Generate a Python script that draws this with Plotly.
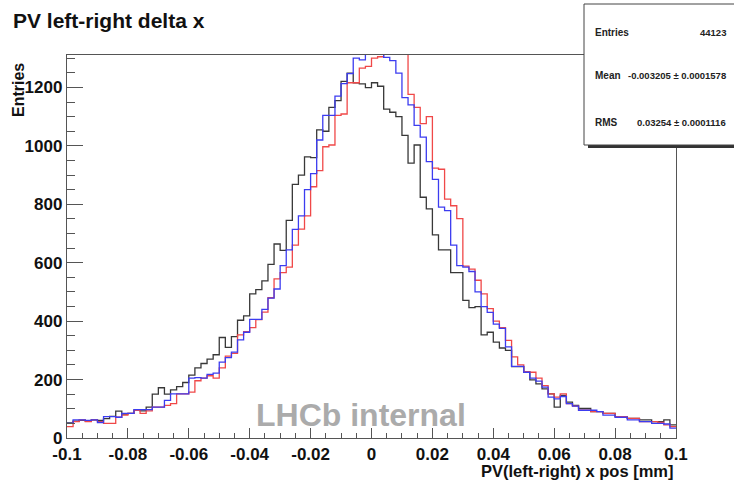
import numpy as np
import plotly.graph_objects as go

# Histogram binning: 100 bins over [-0.1, 0.1] mm
X_MIN, X_MAX, N_BINS = -0.1, 0.1, 100

# Bin contents (entries per bin)
black_counts = [
    52, 58, 60, 58, 62, 60, 66, 74, 92, 82,
    84, 95, 93, 106, 150, 172, 150, 165, 176, 190,
    215, 240, 255, 270, 285, 344, 310, 347, 403, 418,
    493, 508, 538, 594, 664, 642, 745, 868, 900, 962,
    960, 1055, 1050, 1132, 1155, 1221, 1249, 1216, 1212, 1199,
    1216, 1204, 1126, 1115, 1100, 1036, 941, 1003, 824, 784,
    695, 644, 644, 566, 566, 471, 446, 450, 353, 362,
    328, 308, 300, 244, 244, 225, 199, 185, 168, 151,
    106, 146, 123, 112, 101, 101, 90, 90, 84, 84,
    73, 73, 67, 67, 62, 62, 56, 56, 62, 45,
]
blue_counts = [
    50, 62, 62, 60, 62, 53, 73, 73, 71, 84,
    84, 97, 97, 97, 106, 106, 129, 151, 151, 151,
    205, 207, 205, 218, 222, 260, 275, 294, 336, 362,
    406, 406, 440, 479, 510, 590, 644, 714, 760, 850,
    905, 1020, 1104, 1104, 1170, 1213, 1247, 1300, 1294, 1340,
    1340, 1340, 1303, 1292, 1249, 1165, 1140, 1070, 1030, 946,
    885, 790, 778, 660, 590, 585, 570, 500, 450, 430,
    390, 375, 312, 245, 245, 225, 205, 195, 174, 140,
    134, 142, 118, 109, 95, 95, 95, 90, 78, 78,
    71, 71, 62, 62, 56, 56, 50, 50, 48, 34,
]
red_counts = [
    39, 56, 62, 56, 62, 56, 50, 50, 71, 78,
    84, 95, 84, 93, 106, 106, 112, 118, 151, 151,
    157, 196, 205, 213, 205, 240, 280, 290, 353, 364,
    378, 405, 431, 480, 545, 566, 585, 660, 715, 760,
    860, 915, 997, 1003, 1104, 1109, 1216, 1216, 1266, 1272,
    1300, 1305, 1340, 1340, 1340, 1340, 1176, 1132, 1076, 1100,
    924, 920, 818, 795, 751, 588, 578, 540, 493, 443,
    400, 378, 334, 278, 250, 227, 225, 205, 179, 151,
    140, 151, 118, 109, 95, 95, 90, 90, 84, 84,
    73, 73, 67, 67, 56, 56, 56, 53, 45, 39,
]

x_tick_vals = [-0.1, -0.08, -0.06, -0.04, -0.02, 0, 0.02, 0.04, 0.06, 0.08, 0.1]
x_tick_text = ["-0.1", "-0.08", "-0.06", "-0.04", "-0.02", "0",
               "0.02", "0.04", "0.06", "0.08", "0.1"]
y_tick_vals = [0, 200, 400, 600, 800, 1000, 1200]

stats_rows = [("Entries", "44123"),
              ("Mean", "-0.003205 \u00b1 0.0001578"),
              ("RMS", "0.03254 \u00b1 0.0001116")]

# Canvas geometry (pixels)
W, H = 734, 484
L, R, T, B = 67, 676, 55, 438
Y_MAX = 1311

def px(x):
    return (x - L) / (R - L)

def py(y):
    return (B - y) / (B - T)

edges = np.linspace(X_MIN, X_MAX, N_BINS + 1)

fig = go.Figure()
for counts, color in [(black_counts, "#383838"),
                      (red_counts, "#f04848"),
                      (blue_counts, "#3c3cf0")]:
    fig.add_trace(go.Scatter(
        x=edges, y=list(counts) + [counts[-1]],
        mode="lines", line=dict(color=color, width=1.3, shape="hv"),
        hoverinfo="skip", showlegend=False,
    ))

axis_font = dict(family="Liberation Sans", size=17, color="#111111", weight="bold")
frame_col = "#555555"

fig.update_xaxes(
    range=[X_MIN, X_MAX], tickvals=x_tick_vals, ticktext=x_tick_text,
    ticks="inside", ticklen=10, tickwidth=1, tickcolor=frame_col,
    minor=dict(ticks="inside", ticklen=5, dtick=0.005, tickcolor=frame_col),
    showline=True, linecolor=frame_col, linewidth=1.3, mirror=True,
    showgrid=False, zeroline=False, tickfont=axis_font,
)
fig.update_yaxes(
    range=[0, Y_MAX], tickvals=y_tick_vals,
    ticks="inside", ticklen=16, tickwidth=1, tickcolor=frame_col,
    minor=dict(ticks="inside", ticklen=8, dtick=50, tickcolor=frame_col),
    showline=True, linecolor=frame_col, linewidth=1.3, mirror=True,
    showgrid=False, zeroline=False, tickfont=axis_font,
)

annotations = [
    dict(x=px(11), y=py(20), text="PV left-right delta x", xanchor="left", yanchor="middle",
         font=dict(family="Liberation Sans", size=21, color="#111111", weight="bold")),
    dict(x=px(18), y=py(90), text="Entries", textangle=-90, xanchor="center", yanchor="middle",
         font=dict(family="Liberation Sans", size=16, color="#111111", weight="bold")),
    dict(x=px(676), y=py(471), text="PV(left-right) x pos [mm]", xanchor="right", yanchor="middle",
         font=dict(family="Liberation Sans", size=16.5, color="#111111", weight="bold")),
    dict(x=px(361), y=py(415), text="LHCb internal", xanchor="center", yanchor="middle",
         font=dict(family="Liberation Sans", size=32, color="#ababab", weight="bold")),
]
label_font = dict(family="Liberation Sans", size=10, color="#222222", weight="bold")
value_font = dict(family="Liberation Sans", size=9.5, color="#222222", weight="bold")
for (label, value), yy in zip(stats_rows, [32, 75, 122]):
    annotations.append(dict(x=px(593), y=py(yy), text=label, xanchor="left",
                            yanchor="middle", font=label_font))
    annotations.append(dict(x=px(728), y=py(yy), text=value, xanchor="right",
                            yanchor="middle", font=value_font))
for a in annotations:
    a.update(xref="paper", yref="paper", showarrow=False)

shapes = [
    # statistics box with its drop shadow
    dict(type="rect", x0=px(588), x1=px(740), y0=py(148), y1=py(8),
         fillcolor="#333333", line=dict(width=0), layer="above"),
    dict(type="rect", x0=px(584), x1=px(740), y0=py(145), y1=py(4),
         fillcolor="white", line=dict(color="#444444", width=1), layer="above"),
]
for s in shapes:
    s.update(xref="paper", yref="paper")

fig.update_layout(
    width=W, height=H,
    margin=dict(l=L, r=W - R, t=T, b=H - B),
    paper_bgcolor="white", plot_bgcolor="white",
    annotations=annotations, shapes=shapes,
)

fig.write_html("out.html")
